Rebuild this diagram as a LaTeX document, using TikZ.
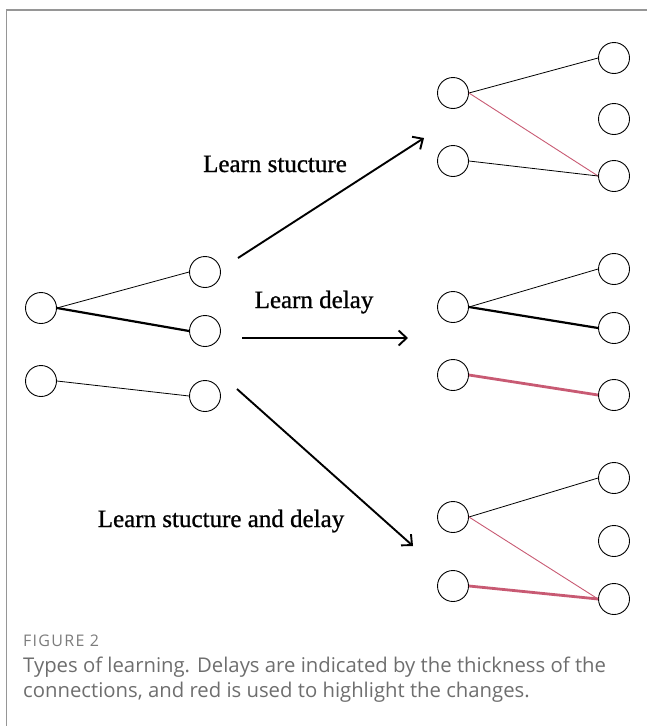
\documentclass[tikz,border=0pt]{standalone}
\usepackage{fontspec}
\setmainfont{Liberation Serif}
\newfontfamily\lblfont[FakeBold=0.9]{Liberation Serif}
\newfontfamily\capfont{Open Sans}
\newfontfamily\figfont[LetterSpace=8]{Open Sans}
\usetikzlibrary{arrows.meta}
\definecolor{framegray}{RGB}{150,150,150}
\definecolor{capgray}{RGB}{110,110,110}
\definecolor{hlred}{RGB}{200,90,115}
\tikzset{
  neuron/.style={circle,draw=black,line width=0.9pt,minimum size=31pt,inner sep=0pt,fill=white},
  thinedge/.style={line width=0.8pt},
  thickedge/.style={line width=2.2pt},
  redthin/.style={line width=0.9pt,draw=hlred},
  redthick/.style={line width=2.8pt,draw=hlred},
  bigarrow/.style={line width=1.9pt,-{Straight Barb[length=8pt,width=15pt,line width=1.9pt]}},
  lbl/.style={anchor=base,inner sep=0pt,font=\lblfont\fontsize{25}{30}\selectfont},
  captxt/.style={anchor=base west,inner sep=0pt,text=capgray,font=\capfont\fontsize{20.3}{24}\selectfont},
}
\begin{document}
\begin{tikzpicture}[x=1pt,y=-1pt]
\useasboundingbox (0,0) rectangle (647,726);
% frame
\draw[framegray,line width=1.5pt] (6.5,726) -- (6.5,10) -- (647,10);

% left network
\node[neuron] (a1) at (41,308) {};
\node[neuron] (a2) at (41,381) {};
\node[neuron] (b1) at (205,272) {};
\node[neuron] (b2) at (205,331) {};
\node[neuron] (b3) at (205,396) {};
\draw[thinedge] (a1.east) -- (b1.west);
\draw[thickedge] (a1.east) -- (b2.west);
\draw[thinedge] (a2.east) -- (b3.west);

% top right network
\node[neuron] (c1) at (453,93) {};
\node[neuron] (c2) at (453,161) {};
\node[neuron] (d1) at (614,58) {};
\node[neuron] (d2) at (614,119) {};
\node[neuron] (d3) at (614,176) {};
\draw[thinedge] (c1.east) -- (d1.west);
\draw[redthin] (c1.east) -- (d3.west);
\draw[thinedge] (c2.east) -- (d3.west);

% middle right network
\node[neuron] (e1) at (453,307) {};
\node[neuron] (e2) at (453,375) {};
\node[neuron] (f1) at (614,269) {};
\node[neuron] (f2) at (614,328) {};
\node[neuron] (f3) at (614,395) {};
\draw[thinedge] (e1.east) -- (f1.west);
\draw[thickedge] (e1.east) -- (f2.west);
\draw[redthick] (e2.east) -- (f3.west);

% bottom right network
\node[neuron] (g1) at (453,517) {};
\node[neuron] (g2) at (453,586) {};
\node[neuron] (h1) at (614,478) {};
\node[neuron] (h2) at (614,541) {};
\node[neuron] (h3) at (614,599) {};
\draw[thinedge] (g1.east) -- (h1.west);
\draw[redthin] (g1.east) -- (h3.west);
\draw[redthick] (g2.east) -- (h3.west);

% arrows
\coordinate (s1) at (238,258);
\coordinate (t1) at (424,138);
\coordinate (s2) at (242,338);
\coordinate (t2) at (408,338);
\coordinate (s3) at (237,389);
\coordinate (t3) at (413,546);
\draw[bigarrow] (s1) -- (t1);
\draw[bigarrow] (s2) -- (t2);
\draw[bigarrow] (s3) -- (t3);

% labels
\node[lbl] (l1) at (275,172) {Learn stucture};
\node[lbl] (l2) at (314,308) {Learn delay};
\node[lbl] (l3) at (221,527) {Learn stucture and delay};

% caption
\node[anchor=base west,inner sep=0pt,text=capgray!90,font=\figfont\fontsize{16}{19}\selectfont] (fig) at (23,646) {FIGURE 2};
\node[captxt] (c1t) at (23,672) {Types of learning. Delays are indicated by the thickness of the};
\node[captxt] (c2t) at (23,697) {connections, and red is used to highlight the changes.};
\end{tikzpicture}
\end{document}
